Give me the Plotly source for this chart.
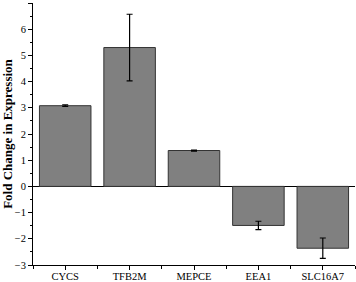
import plotly.graph_objects as go

categories = ["CYCS", "TFB2M", "MEPCE", "EEA1", "SLC16A7"]
fold_change = [3.08, 5.30, 1.37, -1.49, -2.36]
errors = [0.03, 1.27, 0.02, 0.16, 0.39]
y_ticks = [-3, -2, -1, 0, 1, 2, 3, 4, 5, 6, 7]

xpos = list(range(len(categories)))

fig = go.Figure(go.Bar(
    x=xpos, y=fold_change, width=0.8,
    marker=dict(color="#808080", line=dict(color="#333333", width=1)),
    error_y=dict(type="data", array=errors, color="black", thickness=1.2, width=3),
))

font = "Liberation Serif, Times New Roman, serif"
fig.update_layout(
    width=356, height=282,
    margin=dict(l=33, r=1, t=3, b=17),
    plot_bgcolor="white", paper_bgcolor="white",
    showlegend=False,
    font=dict(family=font, size=11, color="black"),
    xaxis=dict(
        range=[-0.5, 4.5], tickvals=xpos, ticktext=categories,
        showline=True, linecolor="black", linewidth=1,
        ticks="outside", ticklen=4, tickcolor="black",
        minor=dict(tickvals=[-0.5, 0.5, 1.5, 2.5, 3.5, 4.5], ticks="outside", ticklen=3, tickcolor="black"),
        showgrid=False, zeroline=False, automargin=False,
        tickfont=dict(family=font, size=10.5),
        ticklabelstandoff=-3,
    ),
    yaxis=dict(
        range=[-3, 7], tickvals=y_ticks,
        showline=True, linecolor="black", linewidth=1,
        ticks="outside", ticklen=4, tickcolor="black",
        minor=dict(dtick=0.5, ticks="outside", ticklen=2, tickcolor="black"),
        showgrid=False, zeroline=True, zerolinecolor="black", zerolinewidth=1,
        automargin=False,
        tickfont=dict(family=font, size=10.5),
        title=dict(text="<b>Fold Change in Expression</b>", font=dict(family=font, size=13), standoff=2),
    ),
)

fig.write_html(
    "out.html",
    config={"displayModeBar": False},
    post_script="document.body.style.margin='0';document.body.style.overflow='hidden';",
)
